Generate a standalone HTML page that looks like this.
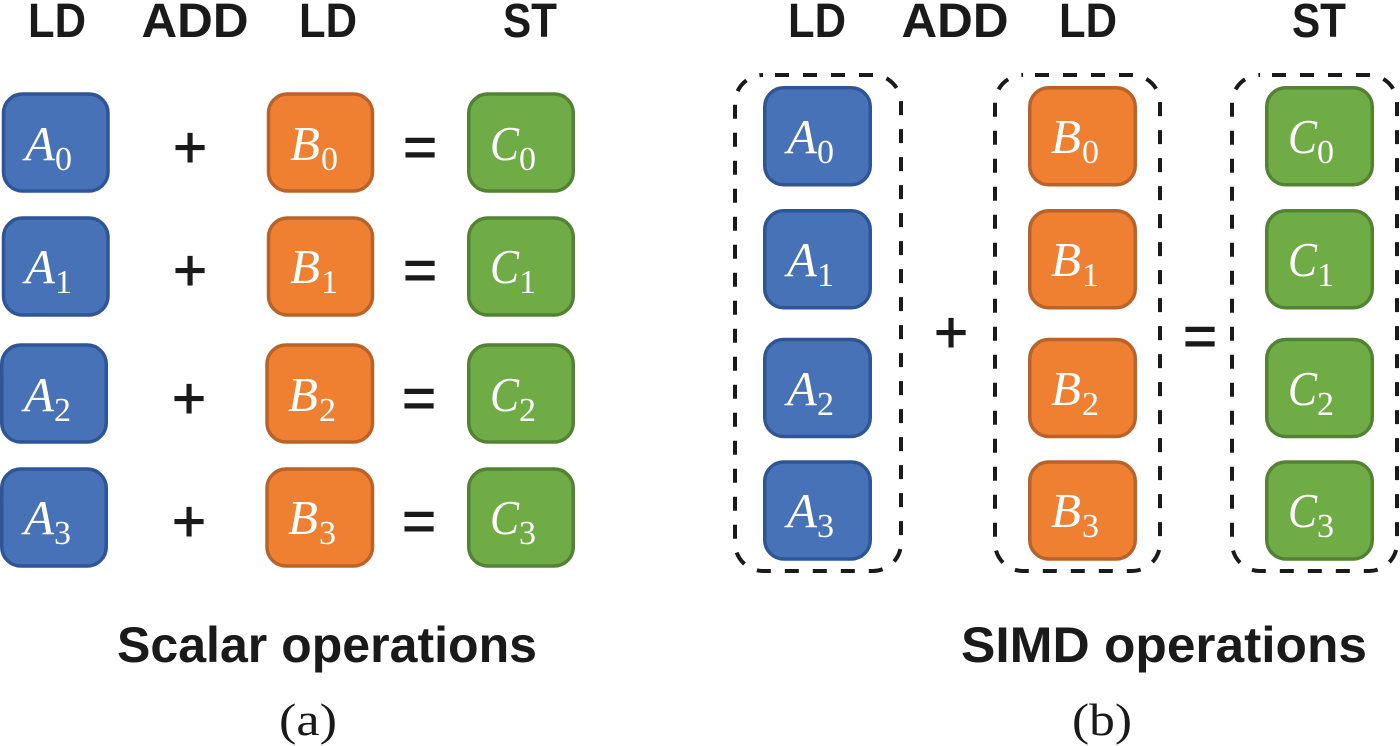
<!DOCTYPE html>
<html><head><meta charset="utf-8"><style>
html,body{margin:0;padding:0;background:#fff}
svg{display:block}
.h{font:bold 48px "Liberation Sans",sans-serif;fill:#1a1a1a;text-anchor:middle}
.s{font:normal 58px "Liberation Sans",sans-serif;fill:#1a1a1a;stroke:#1a1a1a;stroke-width:1;text-anchor:middle}
.t{font:bold 50px "Liberation Sans",sans-serif;fill:#1a1a1a}
.c{font:46px "Liberation Serif",serif;fill:#1a1a1a;text-anchor:middle}
.v{font:italic 49px "Liberation Serif",serif;fill:#fff}
.v tspan{font:normal 34px "Liberation Serif",serif}
.n{font:normal 34px "Liberation Serif",serif;fill:#fff}
.a{fill:#4872b8;stroke:#2f5597;stroke-width:3.5}
.b{fill:#ef7f31;stroke:#b9622a;stroke-width:3.5}
.g{fill:#6fac46;stroke:#548235;stroke-width:3.5}
.d{fill:none;stroke:#1a1a1a;stroke-width:4;stroke-dasharray:14 14;stroke-dashoffset:16}
</style></head><body>
<svg width="1400" height="746" viewBox="0 0 1400 746" xmlns="http://www.w3.org/2000/svg">
<text class="h" x="57" y="37" textLength="58" lengthAdjust="spacingAndGlyphs">LD</text>
<text class="h" x="195" y="37" textLength="107" lengthAdjust="spacingAndGlyphs">ADD</text>
<text class="h" x="328" y="37" textLength="58" lengthAdjust="spacingAndGlyphs">LD</text>
<text class="h" x="530" y="37" textLength="54" lengthAdjust="spacingAndGlyphs">ST</text>
<text class="h" x="817" y="37" textLength="58" lengthAdjust="spacingAndGlyphs">LD</text>
<text class="h" x="955" y="37" textLength="107" lengthAdjust="spacingAndGlyphs">ADD</text>
<text class="h" x="1088" y="37" textLength="58" lengthAdjust="spacingAndGlyphs">LD</text>
<text class="h" x="1319" y="37" textLength="54" lengthAdjust="spacingAndGlyphs">ST</text>

<rect class="a" x="3.5" y="94" width="104.5" height="97" rx="19"/><rect class="a" x="3.5" y="218" width="104.5" height="97" rx="19"/><rect class="a" x="1.75" y="345" width="104.5" height="97" rx="19"/><rect class="a" x="1.75" y="469" width="104.5" height="97" rx="19"/>
<rect class="b" x="268.5" y="94" width="104" height="97" rx="19"/><rect class="b" x="268.5" y="218" width="104" height="97" rx="19"/><rect class="b" x="267" y="345" width="105.5" height="97" rx="19"/><rect class="b" x="267" y="469" width="105.5" height="97" rx="19"/>
<rect class="g" x="468.75" y="94" width="104.5" height="97" rx="19"/><rect class="g" x="468.75" y="218" width="104.5" height="97" rx="19"/><rect class="g" x="468.75" y="345" width="104.5" height="97" rx="19"/><rect class="g" x="468.75" y="469" width="104.5" height="97" rx="19"/>

<rect class="a" x="764.75" y="87.75" width="105.5" height="97" rx="19"/><rect class="a" x="764.75" y="210.75" width="105.5" height="97" rx="19"/><rect class="a" x="764.75" y="339.5" width="105.5" height="97" rx="19"/><rect class="a" x="764.75" y="462" width="105.5" height="97" rx="19"/>
<rect class="b" x="1029.75" y="87.75" width="105.5" height="97" rx="19"/><rect class="b" x="1029.75" y="210.75" width="105.5" height="97" rx="19"/><rect class="b" x="1029.75" y="339.5" width="105.5" height="97" rx="19"/><rect class="b" x="1029.75" y="462" width="105.5" height="97" rx="19"/>
<rect class="g" x="1266.75" y="87.75" width="105.5" height="97" rx="19"/><rect class="g" x="1266.75" y="210.75" width="105.5" height="97" rx="19"/><rect class="g" x="1266.75" y="339.5" width="105.5" height="97" rx="19"/><rect class="g" x="1266.75" y="462" width="105.5" height="97" rx="19"/>

<rect class="d" x="735" y="75" width="166" height="496" rx="28"/>
<rect class="d" x="995" y="75" width="165" height="496" rx="28"/>
<rect class="d" x="1232" y="75" width="165" height="496" rx="28"/>

<text class="v" x="25" y="160">A<tspan dy="10">0</tspan></text>
<text class="v" x="25" y="283">A<tspan dy="10">1</tspan></text>
<text class="v" x="24" y="411">A<tspan dy="10">2</tspan></text>
<text class="v" x="24" y="534">A<tspan dy="10">3</tspan></text>
<text class="v" x="290" y="160">B<tspan dx="1" dy="10">0</tspan></text>
<text class="v" x="290" y="283">B<tspan dx="1" dy="10">1</tspan></text>
<text class="v" x="288" y="411">B<tspan dx="1" dy="10">2</tspan></text>
<text class="v" x="288" y="534">B<tspan dx="1" dy="10">3</tspan></text>
<text class="v" x="490" y="160" textLength="29" lengthAdjust="spacingAndGlyphs">C</text><text class="n" x="519" y="170">0</text>
<text class="v" x="490" y="283" textLength="29" lengthAdjust="spacingAndGlyphs">C</text><text class="n" x="519" y="293">1</text>
<text class="v" x="490" y="411" textLength="29" lengthAdjust="spacingAndGlyphs">C</text><text class="n" x="519" y="421">2</text>
<text class="v" x="490" y="534" textLength="29" lengthAdjust="spacingAndGlyphs">C</text><text class="n" x="519" y="544">3</text>

<text class="v" x="787" y="153">A<tspan dy="10">0</tspan></text>
<text class="v" x="787" y="276">A<tspan dy="10">1</tspan></text>
<text class="v" x="787" y="405">A<tspan dy="10">2</tspan></text>
<text class="v" x="787" y="527">A<tspan dy="10">3</tspan></text>
<text class="v" x="1051" y="153">B<tspan dx="1" dy="10">0</tspan></text>
<text class="v" x="1051" y="276">B<tspan dx="1" dy="10">1</tspan></text>
<text class="v" x="1051" y="405">B<tspan dx="1" dy="10">2</tspan></text>
<text class="v" x="1051" y="527">B<tspan dx="1" dy="10">3</tspan></text>
<text class="v" x="1288" y="153" textLength="29" lengthAdjust="spacingAndGlyphs">C</text><text class="n" x="1317" y="163">0</text>
<text class="v" x="1288" y="276" textLength="29" lengthAdjust="spacingAndGlyphs">C</text><text class="n" x="1317" y="286">1</text>
<text class="v" x="1288" y="405" textLength="29" lengthAdjust="spacingAndGlyphs">C</text><text class="n" x="1317" y="415">2</text>
<text class="v" x="1288" y="527" textLength="29" lengthAdjust="spacingAndGlyphs">C</text><text class="n" x="1317" y="537">3</text>

<text class="s" x="190" y="167">+</text><text class="s" x="190" y="290">+</text><text class="s" x="189" y="418">+</text><text class="s" x="189" y="541">+</text>
<text class="s" x="420" y="167">=</text><text class="s" x="420" y="290">=</text><text class="s" x="419" y="418">=</text><text class="s" x="419" y="541">=</text>
<text class="s" x="951" y="352">+</text><text class="s" x="1200" y="356">=</text>

<text class="t" x="117" y="662" textLength="420" lengthAdjust="spacingAndGlyphs">Scalar operations</text>
<text class="t" x="961" y="662" textLength="406" lengthAdjust="spacingAndGlyphs">SIMD operations</text>
<text class="c" x="308" y="735" textLength="58" lengthAdjust="spacingAndGlyphs">(a)</text>
<text class="c" x="1102" y="735" textLength="60" lengthAdjust="spacingAndGlyphs">(b)</text>
</svg>
</body></html>
